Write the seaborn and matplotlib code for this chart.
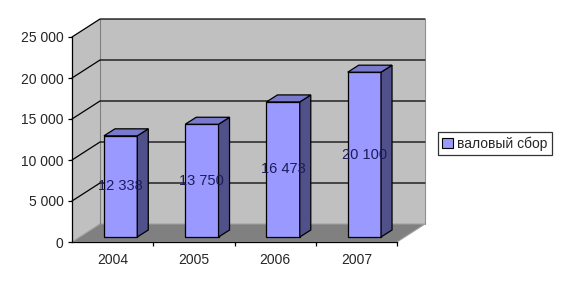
import matplotlib
matplotlib.use("Agg")
import matplotlib.pyplot as plt
from matplotlib.patches import Polygon, Patch
import seaborn as sns
import pandas as pd

years = ["2004", "2005", "2006", "2007"]
values = [12338, 13750, 16473, 20100]
value_labels = ["12 338", "13 750", "16 473", "20 100"]
yticks = [0, 5000, 10000, 15000, 20000, 25000]
ytick_labels = ["0", "5 000", "10 000", "15 000", "20 000", "25 000"]
series_name = "валовый сбор"

sns.set_style("white")
plt.rcParams["font.family"] = ["Liberation Sans", "DejaVu Sans"]

FW, FH = 566, 288
fig = plt.figure(figsize=(FW / 100, FH / 100), dpi=100)
L, R, B, T = 72, 397, 242, 37
ax = fig.add_axes([L / FW, (FH - B) / FH, (R - L) / FW, (B - T) / FH])
ax.set_facecolor("none")

df = pd.DataFrame({"year": years, "value": values})
sns.barplot(data=df, x="year", y="value", color="#9999ff", width=0.41,
            saturation=1, edgecolor="black", linewidth=0.9, ax=ax, zorder=5)
bars = list(ax.patches)

xmin, xmax = -0.5, len(years) - 0.5
ymax = 25000
ax.set_xlim(xmin, xmax)
ax.set_ylim(0, ymax)
W, H = R - L, B - T
px_x = (xmax - xmin) / W
px_y = ymax / H

DX, DY = 28 * px_x, 18 * px_y      # full depth
BX, BY = 8 * px_x, 5 * px_y        # bar front offset
SX, SY = 11 * px_x, 7 * px_y       # bar depth

wall = "#c0c0c0"
# side wall
ax.add_patch(Polygon([(xmin, 0), (xmin, ymax), (xmin + DX, ymax + DY), (xmin + DX, DY)],
                     closed=True, facecolor=wall, edgecolor="none", clip_on=False, zorder=0))
# back wall
ax.add_patch(Polygon([(xmin + DX, DY), (xmin + DX, ymax + DY), (xmax + DX, ymax + DY), (xmax + DX, DY)],
                     closed=True, facecolor=wall, edgecolor="none", clip_on=False, zorder=0))
# floor
ax.add_patch(Polygon([(xmin, 0), (xmax, 0), (xmax + DX, DY), (xmin + DX, DY)],
                     closed=True, facecolor="#808080", edgecolor="#a0a0a0", linewidth=0.8,
                     clip_on=False, zorder=1))
# wall edges
ax.plot([xmin + DX, xmin + DX], [DY, ymax + DY], color="#808080", lw=0.8, clip_on=False, zorder=1)
ax.plot([xmax + DX, xmax + DX], [DY, ymax + DY], color="#909090", lw=0.8, clip_on=False, zorder=1)
# gridlines
for v in yticks[1:]:
    ax.plot([xmin, xmin + DX, xmax + DX], [v, v + DY, v + DY], color="black", lw=0.9,
            clip_on=False, zorder=2)

# bars: shift front face and add side/top
for p, v, lab in zip(bars, values, value_labels):
    x0 = p.get_x() + BX
    p.set_x(x0)
    p.set_y(BY)
    p.set_clip_on(False)
    w = p.get_width()
    x1 = x0 + w
    y0, y1 = BY, BY + p.get_height()
    ax.add_patch(Polygon([(x1, y0), (x1, y1), (x1 + SX, y1 + SY), (x1 + SX, y0 + SY)], closed=True,
                         facecolor="#50508a", edgecolor="black", linewidth=0.9, clip_on=False, zorder=5))
    ax.add_patch(Polygon([(x0, y1), (x1, y1), (x1 + SX, y1 + SY), (x0 + SX, y1 + SY)], closed=True,
                         facecolor="#7a7acc", edgecolor="black", linewidth=0.9, clip_on=False, zorder=5))
    ax.text(x0 + w / 2, BY + v / 2, lab, ha="center", va="center", fontsize=10.5,
            color="#1c1c5c", zorder=6, clip_on=False)

# axes
for s in ["top", "right"]:
    ax.spines[s].set_visible(False)
for s in ["left", "bottom"]:
    ax.spines[s].set_color("black")
    ax.spines[s].set_linewidth(0.9)
    ax.spines[s].set_zorder(7)
ax.set_yticks(yticks)
ax.set_yticklabels(ytick_labels)
ax.set_xticks(range(len(years)))
ax.set_xticklabels(years)
ax.set_xticks([i + 0.5 for i in range(len(years))], minor=True)
ax.tick_params(axis="y", direction="out", length=3, width=0.9, color="black", labelsize=10, pad=3, left=True)
ax.tick_params(axis="x", which="major", length=0, labelsize=10, pad=8)
ax.tick_params(axis="x", which="minor", direction="out", length=3, width=0.9, color="black", bottom=True)
ax.set_xlabel("")
ax.set_ylabel("")

handle = Patch(facecolor="#9999ff", edgecolor="black", linewidth=0.8)
leg = fig.legend([handle], [series_name], loc="center left",
                 bbox_to_anchor=(438 / FW, 1 - 143.5 / FH), frameon=True, fancybox=False,
                 fontsize=10, handlelength=0.8, handleheight=0.8, handletextpad=0.3,
                 borderpad=0.3, borderaxespad=0)
leg.get_frame().set_edgecolor("black")
leg.get_frame().set_linewidth(0.9)

fig.savefig("out.png", dpi=100)
